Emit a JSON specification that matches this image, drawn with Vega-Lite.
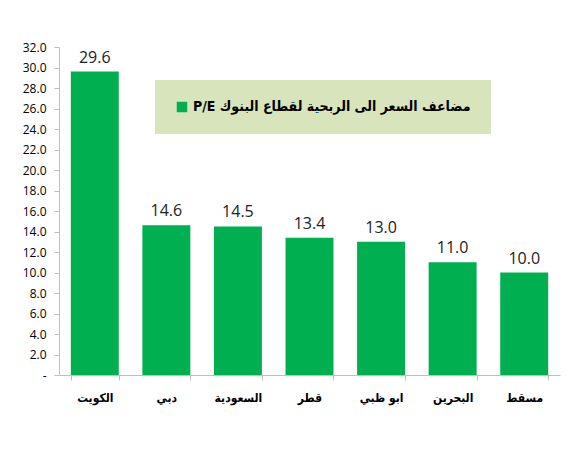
{
  "$schema": "https://vega.github.io/schema/vega-lite/v6.json",
  "autosize": {"type": "none"},
  "width": 501,
  "height": 328,
  "padding": {"left": 59, "top": 47, "right": 23, "bottom": 88},
  "background": "white",
  "config": {"view": {"stroke": null}},
  "data": {"values": [
    {"market": "الكويت", "pe": 29.6},
    {"market": "دبي", "pe": 14.6},
    {"market": "السعودية", "pe": 14.5},
    {"market": "قطر", "pe": 13.4},
    {"market": "ابو ظبي", "pe": 13.0},
    {"market": "البحرين", "pe": 11.0},
    {"market": "مسقط", "pe": 10.0}
  ]},
  "encoding": {
    "x": {"field": "market", "type": "nominal", "sort": null,
      "scale": {"paddingInner": 0.33, "paddingOuter": 0.165},
      "axis": {"title": null, "labelAngle": 0, "labelFont": "DejaVu Sans Condensed, DejaVu Sans", "labelFontWeight": "bold",
        "labelFontSize": 12, "labelColor": "#000", "labelPadding": 12, "domainColor": "#BFBFBF",
        "tickColor": "#BFBFBF", "tickBand": "extent", "tickSize": 5}},
    "y": {"field": "pe", "type": "quantitative",
      "scale": {"domain": [0, 32], "nice": false},
      "axis": {"title": null, "values": [0,2,4,6,8,10,12,14,16,18,20,22,24,26,28,30,32],
        "labelExpr": "datum.value == 0 ? '-' : format(datum.value, '.1f')", "grid": false,
        "labelFont": "Open Sans", "labelFontSize": 12, "labelColor": "#000", "labelPadding": 8,
        "domainColor": "#BFBFBF", "tickColor": "#BFBFBF", "tickSize": 5}}
  },
  "layer": [
    {"mark": {"type": "bar"},
     "encoding": {"color": {"datum": "P/E مضاعف السعر الى الربحية لقطاع البنوك",
        "scale": {"range": ["#00B050"]},
        "legend": {"title": null, "orient": "none", "legendX": 96, "legendY": 33,
          "fillColor": "#D8E4BC", "padding": 20, "symbolType": "square", "symbolSize": 110,
          "labelFont": "DejaVu Sans Condensed, DejaVu Sans", "labelFontWeight": "bold", "labelFontSize": 14, "labelColor": "#000",
          "labelLimit": 400, "symbolOpacity": 1}}}},
    {"mark": {"type": "text", "dy": -14, "fontSize": 16, "font": "Open Sans", "color": "#222"},
     "encoding": {"text": {"field": "pe", "type": "quantitative", "format": ".1f"}}}
  ]
}
